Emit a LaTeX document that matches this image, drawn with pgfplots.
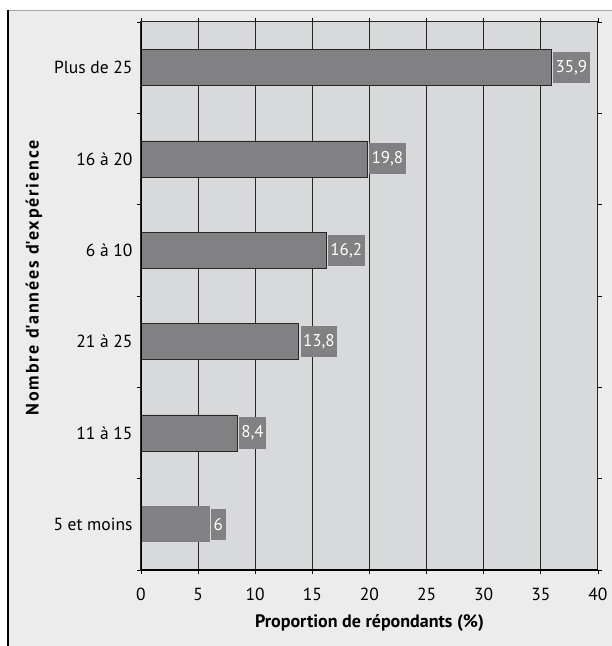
\documentclass[border=0pt]{standalone}
\usepackage{pgfplots}
\pgfplotsset{compat=1.18}
\usepackage{fontspec}
\setmainfont{PT Sans}
\definecolor{pagebg}{HTML}{EBECEB}
\definecolor{plotbg}{HTML}{D8D9DB}
\definecolor{barfill}{HTML}{818183}
\begin{document}
\begin{tikzpicture}
% page background and frame
\path[use as bounding box, fill=white] (-141pt,-76pt) rectangle (471pt,570pt);
\fill[pagebg] (-133pt,-76pt) rectangle (471pt,560pt);
\draw[black!35, line width=0.8pt] (-133pt,560pt) -- (471pt,560pt);
\draw[black, line width=1.5pt] (-133pt,-76pt) -- (-133pt,560.4pt);
\begin{axis}[
  scale only axis, width=457pt, height=548pt,
  xmin=0, xmax=40, ymin=0, ymax=6,
  xtick={0,5,...,40},
  ytick={0.5,1.5,...,5.5},
  yticklabels={5 et moins,11 à 15,21 à 25,6 à 10,16 à 20,Plus de 25},
  minor ytick={0,...,6},
  every major y tick/.append style={draw=none},
  major tick length=4pt, minor tick length=4pt,
  tick align=outside,
  tick style={black, line width=0.8pt},
  xmajorgrids,
  grid style={black!85, line width=1pt},
  axis line style={black!85, line width=1pt},
  axis background/.style={fill=plotbg},
  /pgf/number format/assume math mode=true,
  ticklabel style={font=\fontsize{17.5}{20}\selectfont},
  yticklabel style={xshift=-1pt},
  xticklabel style={yshift=-11pt},
  xlabel={Proportion de répondants (\%)},
  ylabel={Nombre d\textquotesingle ann\'ees d\textquotesingle exp\'erience},
  label style={font=\bfseries\fontsize{18}{21}\selectfont},
  xlabel style={at={(axis description cs:0.5,-0.096)}, anchor=center},
  ylabel style={at={(axis description cs:-0.234,0.533)}, anchor=center, rotate=0,
    font=\bfseries\fontsize{18}{21}\selectfont\addfontfeature{LetterSpace=10}},
  nodes near coords,
  point meta=x,
  /pgf/number format/.cd, use comma, fixed, precision=1,
  /pgfplots/.cd,
  every node near coord/.append style={fill=barfill, text=white,
    inner xsep=2.5pt, minimum height=31pt, anchor=west, xshift=1.5pt,
    font=\fontsize{17}{20}\selectfont},
]
\addplot[xbar, bar shift=0pt, bar width=36pt, fill=barfill, draw=black!85, line width=0.8pt]
  coordinates {(8.4,1.5) (13.8,2.5) (16.2,3.5) (19.8,4.5) (35.9,5.5)};
\addplot[xbar, bar shift=0pt, bar width=36pt, fill=barfill, draw=none]
  coordinates {(6,0.5)};
\draw[black, line width=2pt] (rel axis cs:0,0) -- (rel axis cs:0,1);
\draw[black, line width=2pt] (rel axis cs:0,0) -- (rel axis cs:1,0);
\end{axis}
\end{tikzpicture}
\end{document}
